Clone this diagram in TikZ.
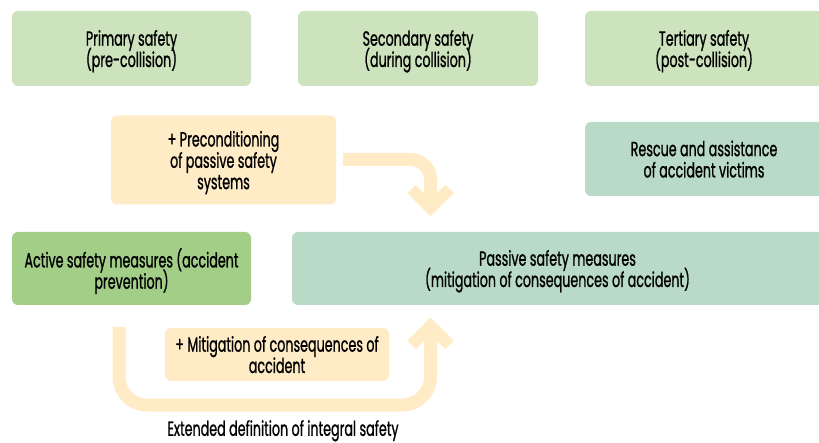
\documentclass[tikz,border=0pt]{standalone}
\usepackage{fontspec}
\setmainfont[FakeStretch=0.62,FakeBold=0.9]{Poppins}
\definecolor{lgreen}{HTML}{CDE3BD}
\definecolor{dgreen}{HTML}{A3CE87}
\definecolor{teal}{HTML}{B9DAC6}
\definecolor{cream}{HTML}{FFEBC6}
\newcommand\myboxfont{\fontsize{20.5}{21.3}\selectfont\lineskiplimit=-40pt\relax\lineskip=0pt\relax}
\begin{document}
\begin{tikzpicture}[x=1pt,y=-1pt,
  box/.style={rounded corners=6pt, inner sep=0pt, align=center,
    font=\myboxfont, text=black, text depth=0pt},
  flow/.style={draw=cream, line width=13pt},
  chev/.style={draw=cream, line width=12pt, miter limit=10}]
\useasboundingbox (0,0) rectangle (819,443);
\node[box, fill=lgreen, minimum width=239pt, minimum height=75pt] (prim) at (131.5,48.5) {Primary safety\\(pre-collision)};
\node[box, fill=lgreen, minimum width=240pt, minimum height=75pt] (sec) at (418,48.5) {Secondary safety\\(during collision)};
\node[box, fill=lgreen, minimum width=238pt, minimum height=75pt] (tert) at (704,48.5) {Tertiary safety\\(post-collision)};
\node[box, fill=cream, minimum width=225pt, minimum height=89pt] (pre) at (223.5,160) {+ Preconditioning\\of passive safety\\systems};
\node[box, fill=teal, minimum width=238pt, minimum height=74pt] (resc) at (704,159) {Rescue and assistance\\of accident victims};
\node[box, fill=dgreen, minimum width=239pt, minimum height=73pt] (act) at (131.5,268.5) {Active safety measures (accident\\prevention)};
\node[box, fill=teal, minimum width=531pt, minimum height=73pt] (pass) at (557.5,268.5) {Passive safety measures\\(mitigation of consequences of accident)};
\node[box, fill=cream, minimum width=224pt, minimum height=53pt] (mit) at (277,354.5) {+ Mitigation of consequences of\\accident};
\node[box] (ext) at (283,428) {Extended definition of integral safety};
% arrows
\coordinate (a1s) at (343,159.5);
\coordinate (a1t) at (430.5,208);
\draw[flow, rounded corners=20pt] (a1s) -- (a1s -| a1t) -- (a1t);
\draw[chev] (411.5,189) -- (a1t) -- (449.5,189);
\coordinate (a2s) at (119,327);
\coordinate (a2t) at (430.5,326);
\draw[flow, rounded corners=28pt] (a2s) -- (119,405) -- (430.5,405) -- (a2t);
\draw[chev] (411.5,345) -- (a2t) -- (449.5,345);
\end{tikzpicture}
\end{document}
